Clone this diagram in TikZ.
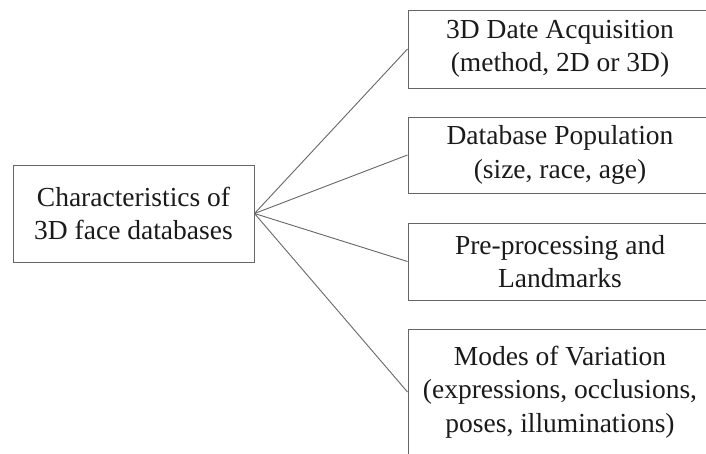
\documentclass[tikz,border=0pt]{standalone}
\usepackage{fontspec}
\setmainfont{Liberation Serif}
\newfontfamily\tnr{Liberation Serif}
\definecolor{edgegray}{HTML}{666666}
\definecolor{textblack}{HTML}{1A1A1A}
\tikzset{
  box/.style={draw=edgegray, line width=1pt, inner sep=0pt, align=center,
    text=textblack, font=\tnr\fontsize{27.5}{33.5}\selectfont},
  link/.style={draw=edgegray, line width=0.9pt}
}
\begin{document}
\begin{tikzpicture}[x=1pt,y=-1pt]
\useasboundingbox (0,0) rectangle (706,453);
\clip (0,0) rectangle (706,453);
\node[box, minimum width=241pt, minimum height=97pt] (L) at (133.5,213.5)
  {Characteristics of\\3D face databases};
\node[box, minimum width=304pt, minimum height=78pt] (B1) at (560,49)
  {3D Date Acquisition\\(method, 2D or 3D)};
\node[box, minimum width=304pt, minimum height=76pt] (B2) at (560,155)
  {Database Population\\(size, race, age)};
\node[box, minimum width=304pt, minimum height=77pt] (B3) at (560,261.5)
  {Pre-processing and\\Landmarks};
\node[box, minimum width=304pt, minimum height=126pt] (B4) at (560,392)
  {Modes of Variation\\(expressions, occlusions,\\poses, illuminations)};
\draw[link] (L.east) -- (B1.west);
\draw[link] (L.east) -- (B2.west);
\draw[link] (L.east) -- (B3.west);
\draw[link] (L.east) -- (B4.west);
\end{tikzpicture}
\end{document}
